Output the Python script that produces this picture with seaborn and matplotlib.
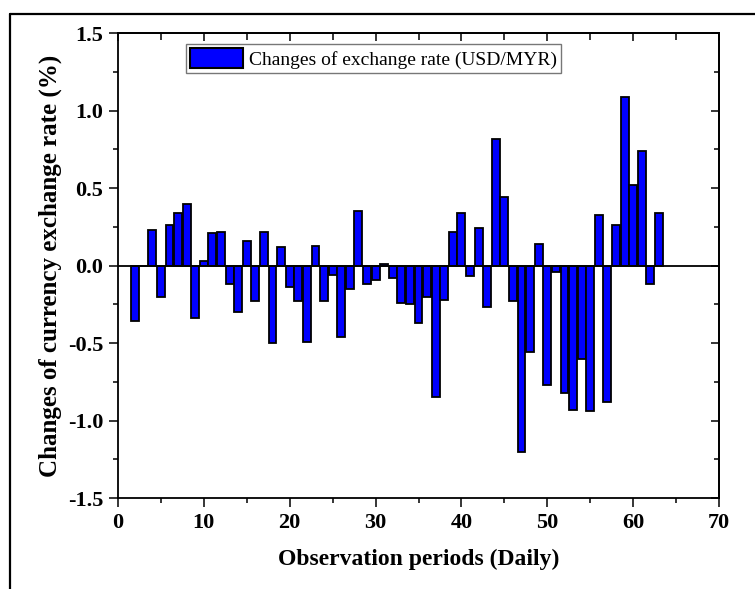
import matplotlib
matplotlib.use("Agg")
import matplotlib.pyplot as plt
from matplotlib.lines import Line2D
from matplotlib.ticker import MultipleLocator, FormatStrFormatter
import pandas as pd
import seaborn as sns

# Daily observation index and percentage change of USD/MYR
periods = list(range(2, 64))
changes = [
    -0.36, 0.00, 0.23, -0.20, 0.26, 0.34, 0.40, -0.34, 0.03, 0.21,
    0.22, -0.12, -0.30, 0.16, -0.23, 0.22, -0.50, 0.12, -0.14, -0.23,
    -0.49, 0.13, -0.23, -0.06, -0.46, -0.15, 0.35, -0.12, -0.09, 0.01,
    -0.08, -0.24, -0.25, -0.37, -0.20, -0.85, -0.22, 0.22, 0.34, -0.07,
    0.24, -0.27, 0.82, 0.44, -0.23, -1.20, -0.56, 0.14, -0.77, -0.04,
    -0.82, -0.93, -0.60, -0.94, 0.33, -0.88, 0.26, 1.09, 0.52, 0.74,
    -0.12, 0.34,
]
series_label = "Changes of exchange rate (USD/MYR)"
x_label = "Observation periods (Daily)"
y_label = "Changes of currency exchange rate (%)"

df = pd.DataFrame({"period": periods, "change": changes})

sns.set_theme(style="white")
plt.rcParams["font.family"] = ["Liberation Serif", "DejaVu Serif"]
plt.rcParams.update({
    "text.color": "black", "axes.labelcolor": "black",
    "xtick.color": "black", "ytick.color": "black",
    "xtick.labelcolor": "black", "ytick.labelcolor": "black",
})

W, H = 755, 589
fig = plt.figure(figsize=(W / 100, H / 100), dpi=100)
ax = fig.add_axes([118 / W, 1 - 498 / H, (719 - 118) / W, (498 - 33.3) / H])

sns.barplot(
    data=df, x="period", y="change", native_scale=True, ax=ax,
    color="#0000ff", saturation=1, edgecolor="black", linewidth=1.3,
    width=0.92, errorbar=None, label=series_label,
)

ax.axhline(0, color="black", lw=1.3, zorder=3)

ax.set_xlim(0, 70)
ax.set_ylim(-1.5, 1.5)
ax.xaxis.set_major_locator(MultipleLocator(10))
ax.xaxis.set_minor_locator(MultipleLocator(5))
ax.yaxis.set_major_locator(MultipleLocator(0.5))
ax.yaxis.set_minor_locator(MultipleLocator(0.25))
ax.yaxis.set_major_formatter(FormatStrFormatter("%.1f"))

for s in ax.spines.values():
    s.set_visible(True)
    s.set_color("black")
    s.set_linewidth(1.3)

ax.tick_params(which="both", direction="out", color="black", width=1.1,
               left=True, bottom=True, top=False, right=False,
               labelcolor="black")
ax.tick_params(which="major", length=6.5)
ax.tick_params(which="minor", length=3.5)
ax.tick_params(axis="both", labelsize=16, pad=4)
for lab in ax.get_xticklabels() + ax.get_yticklabels():
    lab.set_fontweight("bold")

# Mirrored inward ticks on top and right
top = ax.secondary_xaxis("top")
top.xaxis.set_major_locator(MultipleLocator(10))
top.xaxis.set_minor_locator(MultipleLocator(5))
top.tick_params(which="both", direction="in", width=1.1, labeltop=False, color="black")
top.tick_params(which="major", length=6)
top.tick_params(which="minor", length=5)
top.spines["top"].set_linewidth(1.3)
top.spines["top"].set_color("black")
right = ax.secondary_yaxis("right")
right.yaxis.set_major_locator(MultipleLocator(0.5))
right.yaxis.set_minor_locator(MultipleLocator(0.25))
right.tick_params(which="both", direction="in", width=1.1, labelright=False, color="black")
right.tick_params(which="major", length=6)
right.tick_params(which="minor", length=3.5)
right.spines["right"].set_linewidth(1.3)
right.spines["right"].set_color("black")

ax.set_xlabel(x_label, fontsize=17, fontweight="bold", labelpad=12, color="black")
ax.set_ylabel(y_label, fontsize=18, fontweight="bold", labelpad=4, color="black")

leg = ax.legend(
    loc="upper left", bbox_to_anchor=(0.113, 0.977), borderaxespad=0,
    fontsize=14, frameon=True, fancybox=False, edgecolor="#555555",
    handlelength=2.75, handleheight=1.25, handletextpad=0.3, borderpad=0.2,
)
leg.get_frame().set_linewidth(1.0)
for p in leg.get_patches():
    p.set_linewidth(1.5)
for t in leg.get_texts():
    t.set_color("black")

# Outer frame lines along left and top
fx = 10 / W
fy = 1 - 14 / H
fig.add_artist(Line2D([fx, fx], [0, fy], transform=fig.transFigure, color="black", lw=1.6))
fig.add_artist(Line2D([fx, 1], [fy, fy], transform=fig.transFigure, color="black", lw=1.6))

fig.savefig("out.png", dpi=100, facecolor="white")
